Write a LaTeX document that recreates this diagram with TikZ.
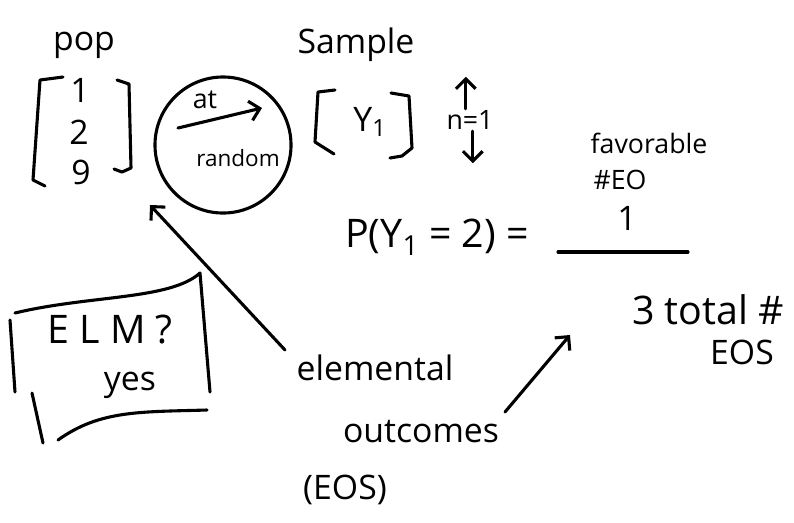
\documentclass[tikz,border=0pt]{standalone}
\usepackage{fontspec}
\setmainfont{Open Sans}
\usetikzlibrary{arrows.meta, positioning}
\tikzset{
  ink/.style={line width=2.2pt, line cap=round, line join=round},
  hand/.style={font=\fontsize{24}{28}\selectfont, inner sep=1pt},
  big/.style={font=\fontsize{28}{32}\selectfont, inner sep=1pt},
  small/.style={font=\fontsize{19}{22}\selectfont, inner sep=1pt},
  barb/.style={ink, -{Straight Barb[length=7pt, width=14pt]}}
}

\begin{document}
\begin{tikzpicture}[x=0.025cm, y=-0.025cm]
  \useasboundingbox (0,0) rectangle (794,522);

  % --- population ---
  \node[hand] (pop) at (84,45) {pop};
  \node[hand] (one) at (80,90) {1};
  \node[hand] (two) at (79,132) {2};
  \node[hand] (nine) at (81,172) {9};
  \draw[ink] (63,77) -- (40,80) -- (33,180) -- (45,186);
  \draw[ink] (117,80) -- (129,84) -- (131,168) -- (122,172) -- (114,169);

  % --- drawn at random ---
  \node[draw, circle, ink, minimum size=3.4cm] (pick) at (223,145) {};
  \node[small] (at) at (205,100) {at};
  \node[small, font=\fontsize{16}{18}\selectfont] (random) at (238,158) {random};
  \coordinate (pickL) at (178,128);
  \coordinate (pickR) at (262,108);
  \draw[barb] (pickL) -- (pickR);

  % --- sample ---
  \node[hand] (sample) at (356,45) {Sample};
  \node[hand] (y1) at (370,122) {Y\textsubscript{1}};
  \draw[ink] (335,90) -- (318,92) -- (315,142) -- (334,154);
  \draw[ink] (391,93) -- (409,96) -- (412,148) -- (402,156) -- (390,158);

  % sample size
  \node[small] (n) at (470,120) {n=1};
  \draw[barb] ([xshift=-3pt]n.north) -- ++(0,-32);
  \draw[barb] ([xshift=2pt]n.south) -- ++(0,32);

  % --- probability ---
  \node[big] (prob) at (437,237) {P(Y\textsubscript{1} = 2) =};
  \node[small] (fav) at (649,143) {favorable};
  \node[small] (favEO) at (620,180) {\#EO};
  \node[hand] (num) at (627,218) {1};
  \coordinate (barL) at (558,252);
  \coordinate (barR) at (688,252);
  \draw[ink] (barL) -- (barR);
  \node[big] (den) at (708,310) {3 total \#};
  \node[hand] (eos) at (742,352) {EOS};

  % --- elemental outcomes ---
  \node[hand] (elem) at (375,368) {elemental};
  \node[hand] (outc) at (421,432) {outcomes};
  \node[hand] (eosabbr) at (345,490) {(EOS)};
  \coordinate (elemtail) at (285,350);
  \coordinate (poptip) at (150,205);
  \draw[barb] (elemtail) -- (poptip);
  \coordinate (outtail) at (505,412);
  \coordinate (dentip) at (570,335);
  \draw[barb] (outtail) -- (dentip);

  % --- ELM flag ---
  \node[big] (elm) at (110,330) {E L M ?};
  \node[hand] (yes) at (130,385) {yes};
  \draw[ink] (15,313) .. controls (90,295) and (170,300) .. (200,273) -- (210,392);
  \draw[ink] (58,440) .. controls (100,410) and (140,412) .. (207,410);
  \draw[ink] (10,320) -- (15,392);
  \draw[ink] (32,393) -- (43,443);
\end{tikzpicture}
\end{document}
